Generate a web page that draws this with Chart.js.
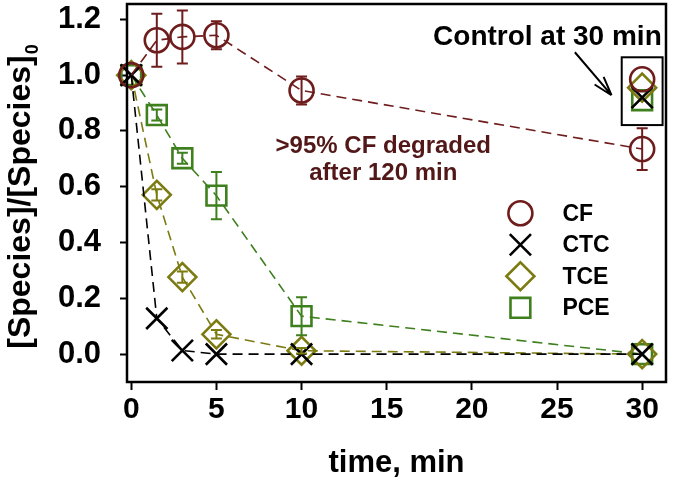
<!DOCTYPE html>
<html>
<head>
<meta charset="utf-8">
<script src="https://cdn.jsdelivr.net/npm/chart.js@4.4.1/dist/chart.umd.min.js"></script>
<style>
  html, body { margin: 0; padding: 0; background: #fff; }
  canvas { display: block; }
</style>
</head>
<body>
<canvas id="chart" width="674" height="495"></canvas>
<script>
// sampling times (min)
const times = [0, 1.5, 3, 5, 10, 30];

const cfValues = [1.0, 1.125, 1.137, 1.143, 0.945, 0.735];
const cfErrors = [0, 0.095, 0.095, 0.05, 0.05, 0.075];
const ctcValues = [1.0, 0.128, 0.013, 0.0, 0.0, 0.0];
const ctcErrors = [0, 0, 0, 0, 0, 0];
const tceValues = [1.0, 0.571, 0.276, 0.071, 0.012, 0.0];
const tceErrors = [0, 0.02, 0.02, 0.015, 0.01, 0];
const pceValues = [1.0, 0.857, 0.702, 0.568, 0.136, 0.0];
const pceErrors = [0, 0.02, 0.02, 0.085, 0.068, 0];

// control samples at 30 min
const controlTime = 30;
const controlCF = 0.985;
const controlCTC = 0.92;
const controlTCE = 0.955;
const controlPCE = 0.91;

const seriesLabels = ['CF', 'CTC', 'TCE', 'PCE'];
const xTicks = [0, 5, 10, 15, 20, 25, 30];
const yTicks = [0, 0.2, 0.4, 0.6, 0.8, 1.0, 1.2];

const FONT = "'Liberation Sans', Arial, sans-serif";
const CF_COLOR = '#6e1c1c';
const NOTE_COLOR = '#521818';
const CTC_COLOR = '#000000';
const TCE_COLOR = '#7b7b12';
const PCE_COLOR = '#3e7f1e';

const series = [
  { label: seriesLabels[0], values: cfValues, errors: cfErrors, control: controlCF, color: CF_COLOR, style: 'circle', radius: 12 },
  { label: seriesLabels[1], values: ctcValues, errors: ctcErrors, control: controlCTC, color: CTC_COLOR, style: 'crossRot', radius: 15 },
  { label: seriesLabels[2], values: tceValues, errors: tceErrors, control: controlTCE, color: TCE_COLOR, style: 'rectRot', radius: 14 },
  { label: seriesLabels[3], values: pceValues, errors: pceErrors, control: controlPCE, color: PCE_COLOR, style: 'rect', radius: 14 },
];

const mainSets = series.map(s => ({
  label: s.label,
  data: times.map((t, i) => ({ x: t, y: s.values[i] })),
  showLine: true,
  borderColor: s.color,
  borderWidth: 1.6,
  borderDash: [10, 6],
  tension: 0,
  pointStyle: s.style,
  pointRadius: s.radius,
  pointBorderColor: s.color,
  pointBackgroundColor: 'rgba(0,0,0,0)',
  pointBorderWidth: 2.6,
  clip: false,
}));

const controlSets = series.map(s => ({
  label: s.label + ' control',
  data: [{ x: controlTime, y: s.control }],
  showLine: false,
  pointStyle: s.style,
  pointRadius: s.radius,
  pointBorderColor: s.color,
  pointBackgroundColor: 'rgba(0,0,0,0)',
  pointBorderWidth: 2.6,
  clip: false,
}));

// vertical error bars with caps
const errorBars = {
  id: 'errorBars',
  afterDatasetsDraw(chart) {
    const { ctx, scales: { x, y } } = chart;
    ctx.save();
    ctx.lineWidth = 2;
    series.forEach(s => {
      ctx.strokeStyle = s.color;
      times.forEach((t, i) => {
        const e = s.errors[i];
        if (!e) return;
        const px = x.getPixelForValue(t);
        const top = y.getPixelForValue(s.values[i] + e);
        const bot = y.getPixelForValue(s.values[i] - e);
        ctx.beginPath();
        ctx.moveTo(px, top); ctx.lineTo(px, bot);
        ctx.moveTo(px - 5.5, top); ctx.lineTo(px + 5.5, top);
        ctx.moveTo(px - 5.5, bot); ctx.lineTo(px + 5.5, bot);
        ctx.stroke();
      });
    });
    ctx.restore();
  }
};

// frame, legend, annotations, y title
const decorations = {
  id: 'decorations',
  afterDraw(chart) {
    const { ctx, chartArea: a, scales: { x, y } } = chart;
    ctx.save();

    ctx.strokeStyle = '#000';
    ctx.lineWidth = 2.5;
    ctx.strokeRect(a.left, a.top, a.right - a.left, a.bottom - a.top);

    // legend
    const lx = x.getPixelForValue(22.85);
    series.forEach((s, i) => {
      const ly = y.getPixelForValue(0.505 - i * 0.113);
      ctx.strokeStyle = s.color;
      ctx.fillStyle = 'rgba(0,0,0,0)';
      ctx.lineWidth = 2.6;
      Chart.helpers.drawPoint(ctx, { pointStyle: s.style, radius: s.radius, borderWidth: 2.6, rotation: 0 }, lx, ly);
      ctx.fillStyle = '#000';
      ctx.font = 'bold 23px ' + FONT;
      ctx.textAlign = 'left';
      ctx.textBaseline = 'middle';
      ctx.fillText(s.label, lx + 42, ly + 1);
    });

    // control box
    const bx0 = x.getPixelForValue(controlTime - 1.2);
    const bx1 = x.getPixelForValue(controlTime + 1.2);
    const by0 = y.getPixelForValue(1.064);
    const by1 = y.getPixelForValue(0.821);
    ctx.strokeStyle = '#000';
    ctx.lineWidth = 2;
    ctx.strokeRect(bx0, by0, bx1 - bx0, by1 - by0);

    // arrow
    const ax0 = x.getPixelForValue(26.05), ay0 = y.getPixelForValue(1.082);
    const ax1 = x.getPixelForValue(28.2), ay1 = y.getPixelForValue(0.928);
    const ang = Math.atan2(ay1 - ay0, ax1 - ax0);
    ctx.beginPath();
    ctx.moveTo(ax0, ay0); ctx.lineTo(ax1, ay1);
    [-0.3, 0.3].forEach(d => {
      ctx.moveTo(ax1, ay1);
      ctx.lineTo(ax1 - 20 * Math.cos(ang + d), ay1 - 20 * Math.sin(ang + d));
    });
    ctx.stroke();

    ctx.fillStyle = '#000';
    ctx.font = 'bold 28px ' + FONT;
    ctx.textAlign = 'right';
    ctx.textBaseline = 'alphabetic';
    ctx.fillText('Control at 30 min', x.getPixelForValue(31.15), y.getPixelForValue(1.108));

    ctx.fillStyle = NOTE_COLOR;
    ctx.font = 'bold 24px ' + FONT;
    ctx.textAlign = 'center';
    const nx = x.getPixelForValue(14.8);
    ctx.fillText('>95% CF degraded', nx, y.getPixelForValue(0.72));
    ctx.fillText('after 120 min', nx, y.getPixelForValue(0.624));

    // y axis title with subscript
    ctx.fillStyle = '#000';
    ctx.translate(30, (a.top + a.bottom) / 2 + 4);
    ctx.rotate(-Math.PI / 2);
    ctx.font = 'bold 32px ' + FONT;
    const main = '[Species]/[Species]';
    const wMain = ctx.measureText(main).width;
    ctx.font = 'bold 18px ' + FONT;
    const wSub = ctx.measureText('0').width;
    const start = -(wMain + wSub) / 2;
    ctx.textAlign = 'left';
    ctx.font = 'bold 32px ' + FONT;
    ctx.fillText(main, start, 0);
    ctx.font = 'bold 18px ' + FONT;
    ctx.fillText('0', start + wMain + 1, 8);

    ctx.restore();
  }
};

new Chart(document.getElementById('chart'), {
  type: 'scatter',
  data: { datasets: [...mainSets, ...controlSets] },
  options: {
    responsive: false,
    animation: false,
    layout: { autoPadding: false, padding: { left: 0, top: 4, right: 8, bottom: 9 } },
    plugins: {
      legend: { display: false },
      tooltip: { enabled: false },
    },
    scales: {
      x: {
        type: 'linear',
        min: -0.25,
        max: 31.4,
        afterFit: s => { s.height = 104; s.paddingLeft = 0; s.paddingRight = 0; },
        afterBuildTicks: s => { s.ticks = xTicks.map(v => ({ value: v })); },
        grid: { drawOnChartArea: false, drawTicks: true, tickLength: 8, tickWidth: 2, tickColor: '#000' },
        border: { display: false },
        ticks: {
          color: '#000',
          font: { family: FONT, size: 30, weight: 'bold' },
          padding: 2,
          maxRotation: 0,
        },
        title: {
          display: true,
          text: 'time, min',
          color: '#000',
          font: { family: FONT, size: 31, weight: 'bold' },
          padding: { top: 4 },
        },
      },
      y: {
        type: 'linear',
        min: -0.1,
        max: 1.255,
        afterFit: s => { s.width = 127; s.paddingTop = 0; s.paddingBottom = 0; },
        afterBuildTicks: s => { s.ticks = yTicks.map(v => ({ value: v })); },
        grid: { drawOnChartArea: false, drawTicks: true, tickLength: 7, tickWidth: 2, tickColor: '#000' },
        border: { display: false },
        ticks: {
          color: '#000',
          font: { family: FONT, size: 31, weight: 'bold' },
          padding: 19,
          callback: v => v.toFixed(1),
        },
      },
    },
  },
  plugins: [errorBars, decorations],
});
</script>
</body>
</html>
